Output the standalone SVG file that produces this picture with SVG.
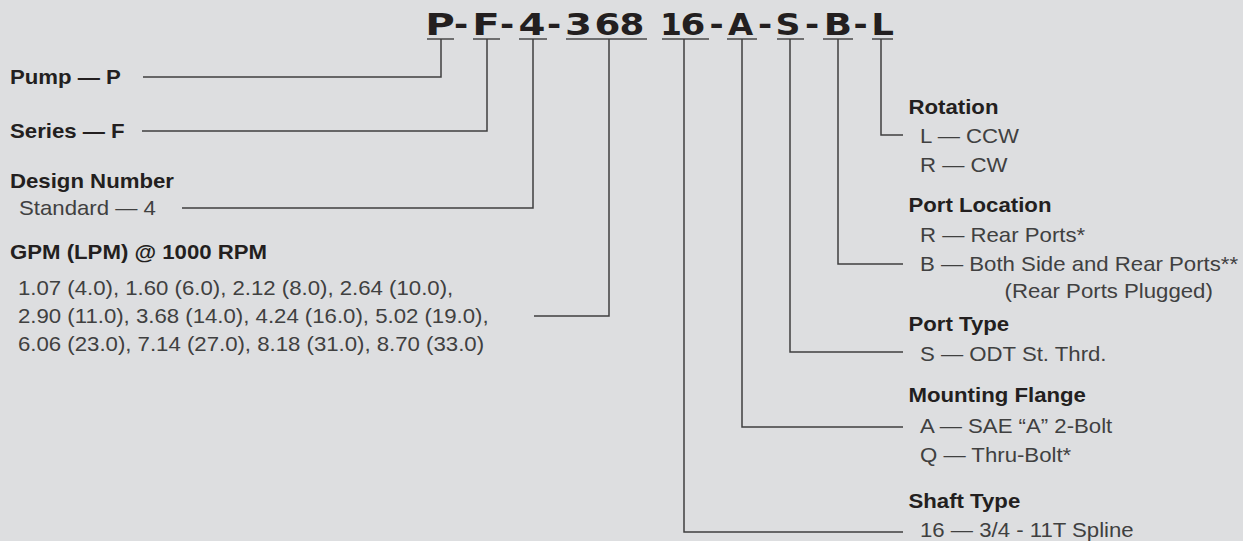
<svg xmlns="http://www.w3.org/2000/svg" width="1243" height="541" viewBox="0 0 1243 541">
<style>
.bg{fill:#dddee0}
.t{font-family:"DejaVu Sans",sans-serif;font-weight:bold;font-size:31px;fill:#231f20;text-anchor:middle}
.ul{stroke:#4a4a4a;stroke-width:1.6;fill:none}
.c{stroke:#3f3f3f;stroke-width:1.5;fill:none}
.b{font-family:"Liberation Sans",Arial,sans-serif;font-weight:bold;font-size:20px;fill:#231f20}
.r{font-family:"Liberation Sans",Arial,sans-serif;font-size:20px;fill:#404040}
</style>
<rect class="bg" x="0" y="0" width="1243" height="541"/>
<g id="title">
<text class="t" transform="translate(440,35) scale(1.3,1)">P</text>
<text class="t" transform="translate(461,35) scale(1.1,1)">-</text>
<text class="t" transform="translate(486,35) scale(1.3,1)">F</text>
<text class="t" transform="translate(507,35) scale(1.1,1)">-</text>
<text class="t" transform="translate(532,35) scale(1.25,1)">4</text>
<text class="t" transform="translate(554,35) scale(1.1,1)">-</text>
<text class="t" transform="translate(578.5,35) scale(1.25,1)">3</text>
<text class="t" transform="translate(607.5,35) scale(1.2,1)">6</text>
<text class="t" transform="translate(632,35) scale(1.15,1)">8</text>
<text class="t" transform="translate(671,35) scale(1.0,1)">1</text>
<text class="t" transform="translate(693,35) scale(1.15,1)">6</text>
<text class="t" transform="translate(716.5,35) scale(1.1,1)">-</text>
<text class="t" transform="translate(740.5,35) scale(1.05,1)">A</text>
<text class="t" transform="translate(765,35) scale(1.1,1)">-</text>
<text class="t" transform="translate(788,35) scale(1.12,1)">S</text>
<text class="t" transform="translate(812,35) scale(1.1,1)">-</text>
<text class="t" transform="translate(838,35) scale(1.2,1)">B</text>
<text class="t" transform="translate(860.5,35) scale(1.1,1)">-</text>
<text class="t" transform="translate(882.5,35) scale(1.15,1)">L</text>
<path class="ul" d="M427 39H454M473 39H500M519 39H547M566 39H647M662 39H709M727 39H757M777 39H804M823 39H853M872 39H893"/>
</g>
<g id="connectors">
<path class="c" d="M441 39V77H143"/>
<path class="c" d="M487 39V131H142"/>
<path class="c" d="M533 39V208H182"/>
<path class="c" d="M609 39V316H534"/>
<path class="c" d="M684 39V532H903"/>
<path class="c" d="M742 39V427H903"/>
<path class="c" d="M790 39V352H903"/>
<path class="c" d="M838 39V264H903"/>
<path class="c" d="M881 39V135H903"/>
</g>
<g id="node-pump"><text class="b" transform="translate(10,84) scale(1.11,1)">Pump — P</text></g>
<g id="node-series"><text class="b" transform="translate(10,138) scale(1.11,1)">Series — F</text></g>
<g id="node-design">
<text class="b" transform="translate(10,188) scale(1.11,1)">Design Number</text>
<text class="r" transform="translate(19,215) scale(1.11,1)">Standard — 4</text>
</g>
<g id="node-gpm">
<text class="b" transform="translate(10,259) scale(1.11,1)">GPM (LPM) @ 1000 RPM</text>
<text class="r" transform="translate(18,295) scale(1.11,1)">1.07 (4.0), 1.60 (6.0), 2.12 (8.0), 2.64 (10.0),</text>
<text class="r" transform="translate(18,323) scale(1.11,1)">2.90 (11.0), 3.68 (14.0), 4.24 (16.0), 5.02 (19.0),</text>
<text class="r" transform="translate(18,351) scale(1.11,1)">6.06 (23.0), 7.14 (27.0), 8.18 (31.0), 8.70 (33.0)</text>
</g>
<g id="node-rotation">
<text class="b" transform="translate(908.5,114) scale(1.11,1)">Rotation</text>
<text class="r" transform="translate(920,143) scale(1.11,1)">L — CCW</text>
<text class="r" transform="translate(920,172) scale(1.11,1)">R — CW</text>
</g>
<g id="node-portloc">
<text class="b" transform="translate(908.5,212) scale(1.11,1)">Port Location</text>
<text class="r" transform="translate(920,241.5) scale(1.11,1)">R — Rear Ports*</text>
<text class="r" transform="translate(920,270.5) scale(1.11,1)">B — Both Side and Rear Ports**</text>
<text class="r" transform="translate(1004.5,298) scale(1.11,1)">(Rear Ports Plugged)</text>
</g>
<g id="node-porttype">
<text class="b" transform="translate(908.5,330.5) scale(1.11,1)">Port Type</text>
<text class="r" transform="translate(920,361) scale(1.11,1)">S — ODT St. Thrd.</text>
</g>
<g id="node-flange">
<text class="b" transform="translate(908.5,402) scale(1.11,1)">Mounting Flange</text>
<text class="r" transform="translate(920,433) scale(1.11,1)">A — SAE “A” 2-Bolt</text>
<text class="r" transform="translate(920,462) scale(1.11,1)">Q — Thru-Bolt*</text>
</g>
<g id="node-shaft">
<text class="b" transform="translate(908.5,507.5) scale(1.11,1)">Shaft Type</text>
<text class="r" transform="translate(920,537) scale(1.11,1)">16 — 3/4 - 11T Spline</text>
</g>
</svg>
